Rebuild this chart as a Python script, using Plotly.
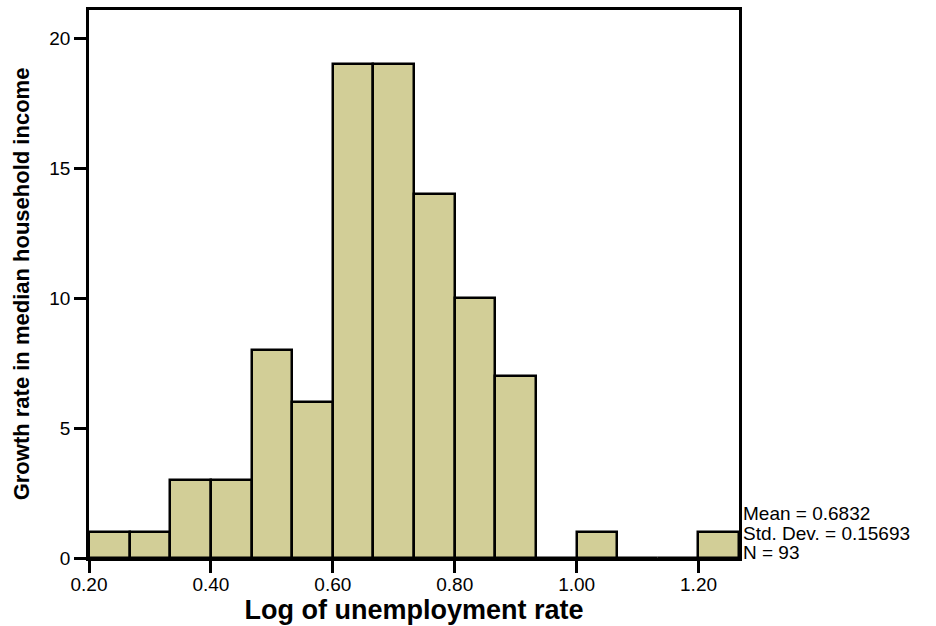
import plotly.graph_objects as go

# Histogram of the log unemployment rate (93 observations, 16 equal-width bins)
bin_start = 0.20
bin_width = 0.06665
counts = [1, 1, 3, 3, 8, 6, 19, 19, 14, 10, 7, 0, 1, 0, 0, 1]

stats_lines = ["Mean = 0.6832", "Std. Dev. = 0.15693", "N = 93"]
x_tick_vals = [0.2, 0.4, 0.6, 0.8, 1.0, 1.2]
y_tick_vals = [0, 5, 10, 15, 20]

centers = [bin_start + bin_width * (i + 0.5) for i in range(len(counts))]
x_max = bin_start + bin_width * len(counts)

FONT = "Liberation Sans, Arial, sans-serif"
FILL = "#D2CE97"

fig = go.Figure(
    go.Bar(
        x=centers,
        y=counts,
        width=bin_width,
        marker=dict(color=FILL, line=dict(color="black", width=2.5)),
        hoverinfo="x+y",
    )
)

axis_common = dict(
    showline=True,
    linecolor="black",
    linewidth=2.5,
    mirror=True,
    ticks="outside",
    ticklen=12,
    tickwidth=2.5,
    tickcolor="black",
    showgrid=False,
    zeroline=False,
    automargin=False,
    tickfont=dict(family=FONT, size=19, color="black"),
)

fig.update_xaxes(
    range=[bin_start, x_max],
    tickvals=x_tick_vals,
    tickformat=".2f",
    ticklabelstandoff=-5,
    title=dict(
        text="<b>Log of unemployment rate</b>",
        font=dict(family=FONT, size=27, color="black"),
        standoff=2,
    ),
    **axis_common,
)
fig.update_yaxes(
    range=[0, 21.08],
    tickvals=y_tick_vals,
    title=dict(
        text="<b>Growth rate in median household income</b>",
        font=dict(family=FONT, size=22, color="black"),
        standoff=14,
    ),
    **axis_common,
)

# Summary statistics to the right of the plot area
plot_top, plot_bottom = 10, 558
for line, py in zip(stats_lines, [513, 533, 552]):
    fig.add_annotation(
        text=line,
        xref="paper",
        yref="paper",
        x=1,
        y=(plot_bottom - py) / (plot_bottom - plot_top),
        xanchor="left",
        yanchor="middle",
        xshift=2,
        showarrow=False,
        font=dict(family=FONT, size=19, color="black"),
    )

fig.update_layout(
    width=936,
    height=626,
    margin=dict(l=89, r=197, t=10, b=68),
    paper_bgcolor="white",
    plot_bgcolor="white",
    showlegend=False,
    bargap=0,
)

fig.write_html("out.html")
